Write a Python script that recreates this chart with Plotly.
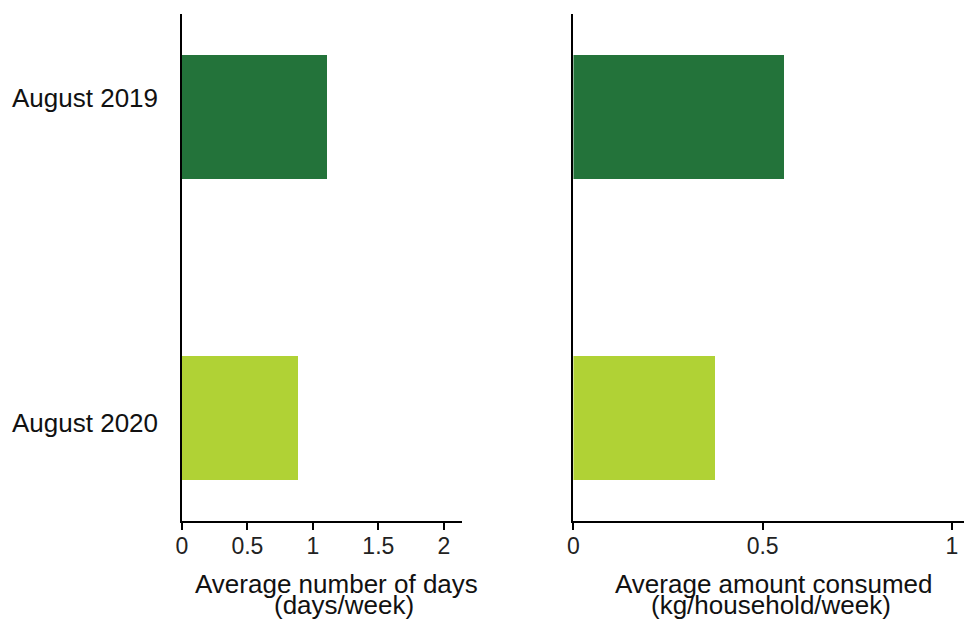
import plotly.graph_objects as go

categories = ["August 2019", "August 2020"]
days_per_week = [1.11, 0.886]
kg_per_household = [0.558, 0.376]
bar_colors = ["#23733A", "#B0D235"]

left_ticks = [0, 0.5, 1, 1.5, 2]
right_ticks = [0, 0.5, 1]

FONT = "Liberation Sans, Arial, Helvetica, sans-serif"
W, H = 964, 620
TOP, BOTTOM = 14, 521


def py(pixel_y):
    """pixel row -> paper y"""
    return (BOTTOM - pixel_y) / (BOTTOM - TOP)


def px(pixel_x):
    return pixel_x / W


fig = go.Figure()
fig.add_trace(go.Bar(y=categories, x=days_per_week, orientation="h",
                     marker=dict(color=bar_colors, line=dict(width=0)),
                     width=0.41, xaxis="x", yaxis="y", showlegend=False))
fig.add_trace(go.Bar(y=categories, x=kg_per_household, orientation="h",
                     marker=dict(color=bar_colors, line=dict(width=0)),
                     width=0.41, xaxis="x2", yaxis="y2", showlegend=False))

axis_common = dict(showgrid=False, zeroline=False, showline=True, linecolor="black",
                   linewidth=2, ticks="outside", ticklen=7, tickwidth=2, tickcolor="black",
                   ticklabelstandoff=-4,
                   tickfont=dict(size=23, color="#222", family=FONT))
yaxis_common = dict(domain=[0, 1], range=[1.342, -0.342], showgrid=False, zeroline=False,
                    showline=True, linecolor="black", linewidth=2, ticks="",
                    showticklabels=False)

annotations = []
label_rows = [98, 423]
for cat, row in zip(categories, label_rows):
    annotations.append(dict(text=cat, x=px(155), y=py(row), xref="paper", yref="paper",
                            xanchor="right", yanchor="middle", showarrow=False,
                            font=dict(size=26, family=FONT, color="#111")))

titles = [
    (["Average number of days", "(days/week)"], [333, 340]),
    (["Average amount consumed", "(kg/household/week)"], [773, 770]),
]
for lines, centers in titles:
    for line, cx, row in zip(lines, centers, [584, 605]):
        annotations.append(dict(text=line, x=px(cx), y=py(row), xref="paper", yref="paper",
                                xanchor="center", yanchor="middle", showarrow=False,
                                font=dict(size=26, family=FONT, color="#111")))

fig.update_layout(
    width=W, height=H,
    margin=dict(l=0, r=0, t=TOP, b=H - BOTTOM),
    paper_bgcolor="white", plot_bgcolor="white",
    font=dict(family=FONT, color="#111"),
    bargap=0,
    xaxis=dict(domain=[px(177), px(459)], range=[0, 2.14], tickvals=left_ticks,
               ticktext=[str(t) for t in left_ticks], anchor="y", **axis_common),
    yaxis=dict(anchor="x", **yaxis_common),
    xaxis2=dict(domain=[px(571), 1.0], range=[0, 1.032], tickvals=right_ticks,
                ticktext=[str(t) for t in right_ticks], anchor="y2", **axis_common),
    yaxis2=dict(anchor="x2", **yaxis_common),
    annotations=annotations,
)

fig.write_html("out.html", config={"displayModeBar": False},
               post_script="document.body.style.margin='0';")
